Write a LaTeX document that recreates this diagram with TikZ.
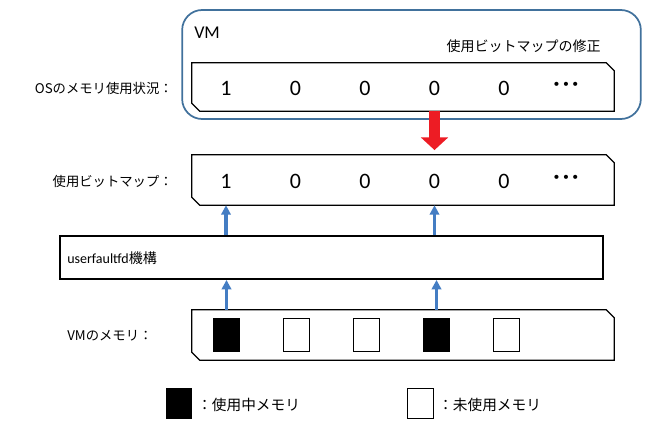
\documentclass[tikz,border=0pt]{standalone}
\usepackage{fontspec}
\setmainfont{Carlito}
\newfontfamily\jpfont{Noto Sans CJK JP}
\usetikzlibrary{arrows.meta}
\definecolor{vmblue}{RGB}{65,113,156}
\definecolor{arrowblue}{RGB}{68,125,195}
\definecolor{fixred}{RGB}{237,28,36}
% outline with two cut corners (top right, bottom left)
\newcommand\snipframe[1]{%
  \draw[line width=0.9pt] (#1.north west) -- ([xshift=-6pt]#1.north east)
    -- ([yshift=-6pt]#1.north east) -- (#1.south east)
    -- ([xshift=6pt]#1.south west) -- ([yshift=6pt]#1.south west) -- cycle;}
\newcommand\bitdots{\textbf{\textperiodcentered\hspace{2.6pt}\textperiodcentered\hspace{2.6pt}\textperiodcentered}}

\begin{document}
\begin{tikzpicture}[x=0.75pt,y=-0.75pt,
  snipbox/.style={inner sep=0pt,minimum width=316.5pt,minimum height=37.5pt},
  rowlabel/.style={font=\jpfont\fontsize{10}{12}\selectfont,inner sep=0pt},
  bit/.style={font=\fontsize{16.5}{18}\selectfont,inner sep=0pt},
  memcell/.style={draw,line width=0.8pt,minimum width=19.5pt,minimum height=25pt,inner sep=0pt},
  used/.style={memcell,fill=black},
  free/.style={memcell,fill=white},
  uparrow/.style={draw=arrowblue,line width=2.3pt,-{Triangle[width=7pt,length=7pt]}},
  fixarrow/.style={draw=fixred,line width=8pt,-{Triangle[width=20pt,length=9.5pt]}}]
  \useasboundingbox (0,0) rectangle (645,421);

  % VM
  \node (vm) [draw=vmblue,line width=1.3pt,rounded corners=15pt,
    minimum width=344pt,minimum height=81.75pt] at (411.5,64.5) {};
  \node (vmname) [anchor=west,inner sep=0pt,font=\fontsize{13.5}{15}\selectfont] at (194,33) {VM};
  \node (fixlabel) [anchor=east,rowlabel,font=\jpfont\fontsize{10.5}{12}\selectfont] at (601,46) {使用ビットマップの修正};

  % rows
  \node (os) [snipbox,minimum height=36pt] at (403,87) {};
  \node (bitmap) [snipbox] at (403,180) {};
  \node (ufd) [draw,line width=1.4pt,minimum width=407.25pt,minimum height=32.25pt] at (331.5,257.5) {};
  \node (mem) [snipbox] at (403,335) {};
  \snipframe{os}
  \snipframe{bitmap}
  \snipframe{mem}

  \node (oslabel) [anchor=east,rowlabel] at (173,88) {OSのメモリ使用状況：};
  \node (bmlabel) [anchor=east,rowlabel] at (173,181) {使用ビットマップ：};
  \node (ufdlabel) [anchor=west,inner sep=0pt,font=\fontsize{10.5}{12}\selectfont] at (67,258)
    {userfaultfd{\jpfont 機構}};
  \node (memlabel) [anchor=west,rowlabel] at (67,336) {VMのメモリ：};

  \foreach \v [count=\i] in {1,0,0,0,0} {
    \node (o\i) [bit] at (226+69.5*\i-69.5,88) {\v};
    \node (b\i) [bit] at (226+69.5*\i-69.5,181) {\v};
  }
  \node (odots) [bit] at (566,86) {\bitdots};
  \node (bdots) [bit] at (566,179) {\bitdots};

  \foreach \s [count=\i] in {used,free,free,used,free}
    \node (m\i) [\s] at (226.5+70*\i-70,335) {};

  % arrows
  \draw[fixarrow,shorten >=3.5pt] (os.south -| o4) -- (bitmap.north -| o4);
  \draw[uparrow] (ufd.north -| b1) -- (bitmap.south -| b1);
  \draw[uparrow] (ufd.north -| b4) -- (bitmap.south -| b4);
  \draw[uparrow] (mem.north -| m1) -- (ufd.south -| m1);
  \draw[uparrow] (mem.north -| m4) -- (ufd.south -| m4);

  % legend
  \node (keyused) [used,minimum width=19pt,minimum height=23pt] at (179,403.5) {};
  \node (keyusedtext) [anchor=west,rowlabel,font=\jpfont\fontsize{11}{13}\selectfont] at (197,405) {：使用中メモリ};
  \node (keyfree) [free,minimum width=19pt,minimum height=23pt] at (420.5,403.5) {};
  \node (keyfreetext) [anchor=west,rowlabel,font=\jpfont\fontsize{11}{13}\selectfont] at (438,405) {：未使用メモリ};
\end{tikzpicture}
\end{document}
